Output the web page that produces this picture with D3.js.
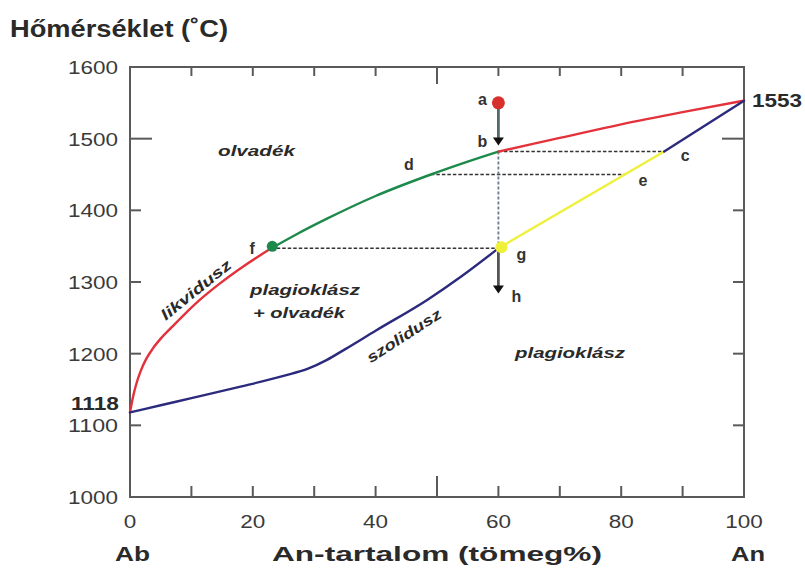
<!DOCTYPE html>
<html>
<head>
<meta charset="utf-8">
<script src="https://cdn.jsdelivr.net/npm/d3@7"></script>
<style>
  html, body { margin: 0; padding: 0; background: #fff; }
  svg { display: block; font-family: "Liberation Sans", Arial, sans-serif; }
</style>
</head>
<body>
<svg id="chart" width="805" height="568"></svg>
<script>
// Liquidus curve of the albite–anorthite system: [An wt%, °C]
const liquidusLow  = [[0,1118],[0.5,1140],[1,1157],[1.7,1175],[2.6,1192],[3.7,1207],[5,1221],[6.8,1237],[9,1256],[11.5,1276],[14.5,1297],[18.5,1322],[23,1347]];
const liquidusMid  = [[23,1347],[27,1366],[32,1388],[40,1420],[49,1450],[55,1468],[60,1482]];
const liquidusHigh = [[60,1482],[70,1501],[80,1520],[90,1537],[100,1553]];
// Solidus curve
const solidusLow  = [[0,1118],[5,1128],[10,1138],[18,1154],[25,1169],[29,1179],[32,1191],[35,1206],[40,1232],[48.4,1275],[54,1308],[60,1347]];
const solidusMid  = [[60,1347],[87,1482]];
const solidusHigh = [[87,1482],[100,1553]];

// Crystallisation path points
const pathPoints = [
  { id: "a", x: 60, t: 1550 },
  { id: "b", x: 60, t: 1482 },
  { id: "c", x: 87, t: 1482 },
  { id: "d", x: 49, t: 1450 },
  { id: "e", x: 80.6, t: 1450 },
  { id: "f", x: 23, t: 1347 },
  { id: "g", x: 60, t: 1347 },
  { id: "h", x: 60, t: 1284 }
];
// Tie lines (isotherms) between liquid and solid compositions
const tieLines = [["b","c"],["d","e"],["f","g"]];

const xTicks = [0, 20, 40, 60, 80, 100];
const xMinorTicks = [10, 20, 30, 40, 50, 60, 70, 80, 90];
const yTicks = [1000, 1100, 1200, 1300, 1400, 1500, 1600];
const yMinorTicks = [1100, 1200, 1300, 1400, 1500];

const svg = d3.select("#chart");
const x = d3.scaleLinear().domain([0, 100]).range([130, 744]);
const y = d3.scaleLinear().domain([1000, 1600]).range([497, 67]);
const P = Object.fromEntries(pathPoints.map(p => [p.id, p]));

const axisColor = "#5a5a5a";
const textColor = "#2a2a2a";

// Text helper: the type is set wide, so every label gets an explicit run length
function label(g, opts) {
  const t = g.append("text")
    .attr("x", opts.x).attr("y", opts.y)
    .attr("font-size", opts.size + "px")
    .attr("fill", opts.fill || textColor)
    .attr("textLength", opts.len)
    .attr("lengthAdjust", "spacingAndGlyphs")
    .text(opts.text);
  if (opts.bold) t.attr("font-weight", "bold");
  if (opts.italic) t.attr("font-style", "italic");
  if (opts.transform) t.attr("transform", opts.transform);
  return t;
}

// Plot frame
svg.append("rect")
  .attr("x", x(0)).attr("y", y(1600))
  .attr("width", x(100) - x(0)).attr("height", y(1000) - y(1600))
  .attr("fill", "none").attr("stroke", axisColor).attr("stroke-width", 2);

// Inward ticks on all four sides
const tickG = svg.append("g").attr("stroke", axisColor).attr("stroke-width", 2);
xMinorTicks.forEach(v => {
  const len = v === 50 ? 21 : 11;
  tickG.append("line").attr("x1", x(v)).attr("x2", x(v)).attr("y1", y(1000)).attr("y2", y(1000) - len);
  tickG.append("line").attr("x1", x(v)).attr("x2", x(v)).attr("y1", y(1600)).attr("y2", y(1600) + (v === 50 ? 17 : 9));
});
yMinorTicks.forEach(v => {
  const len = v === 1500 ? 22 : 11;
  tickG.append("line").attr("x1", x(0)).attr("x2", x(0) + len).attr("y1", y(v)).attr("y2", y(v));
  tickG.append("line").attr("x1", x(100)).attr("x2", x(100) - len).attr("y1", y(v)).attr("y2", y(v));
});

// Tick labels
const labelG = svg.append("g");
yTicks.forEach(v => {
  label(labelG, { x: 68, y: y(v) + 7, size: 19, len: 50, text: String(v), fill: "#3a3a3a" });
});
xTicks.forEach(v => {
  const w = String(v).length * 12.5;
  label(labelG, { x: x(v) - w / 2, y: 528, size: 19, len: w, text: String(v), fill: "#3a3a3a" });
});

// Axis titles
label(labelG, { x: 10, y: 37, size: 23, len: 218, bold: true, text: "Hőmérséklet (˚C)" });
label(labelG, { x: 272, y: 561, size: 21, len: 330, bold: true, text: "An-tartalom (tömeg%)" });
label(labelG, { x: 115, y: 561, size: 21, len: 35, bold: true, text: "Ab" });
label(labelG, { x: 731, y: 561, size: 21, len: 34, bold: true, text: "An" });

// Melting points of the end members
label(labelG, { x: 752, y: y(1553) + 6, size: 18, len: 50, bold: true, text: "1553" });
label(labelG, { x: 71, y: y(1118) - 2, size: 18, len: 48, bold: true, text: "1118" });

// Tie lines
const dashG = svg.append("g").attr("stroke", "#333").attr("stroke-width", 1.6).attr("stroke-dasharray", "3.5,2");
tieLines.forEach(([p, q]) => {
  dashG.append("line")
    .attr("x1", x(P[p].x)).attr("y1", y(P[p].t))
    .attr("x2", x(P[q].x)).attr("y2", y(P[q].t));
});
// Vertical isopleth from b to g
svg.append("line")
  .attr("x1", x(60)).attr("x2", x(60))
  .attr("y1", y(P.b.t)).attr("y2", y(P.g.t))
  .attr("stroke", "#6a7a90").attr("stroke-width", 1.8).attr("stroke-dasharray", "3,2");

// Curves
const line = d3.line().x(d => x(d[0])).y(d => y(d[1])).curve(d3.curveMonotoneX);
const curves = [
  [liquidusLow, "#e3323b"],
  [liquidusMid, "#1d8a4b"],
  [liquidusHigh, "#e3323b"],
  [solidusLow, "#2c2a7c"],
  [solidusMid, "#eef03a"],
  [solidusHigh, "#2c2a7c"]
];
curves.forEach(([data, color]) => {
  svg.append("path").datum(data)
    .attr("d", line)
    .attr("fill", "none").attr("stroke", color)
    .attr("stroke-width", 2.4).attr("stroke-linecap", "round");
});

// Cooling arrows a→b and g→h
const arrowHead = (tipX, tipY) => {
  svg.append("path")
    .attr("d", `M${tipX - 5.5},${tipY - 8} L${tipX + 5.5},${tipY - 8} L${tipX},${tipY} Z`)
    .attr("fill", "#111");
};
svg.append("line")
  .attr("x1", x(P.a.x)).attr("y1", y(P.a.t))
  .attr("x2", x(P.b.x)).attr("y2", y(P.b.t) - 12)
  .attr("stroke", "#4f6b6b").attr("stroke-width", 2.8);
arrowHead(x(P.b.x), y(P.b.t) - 6);
svg.append("line")
  .attr("x1", x(P.g.x)).attr("y1", y(P.g.t))
  .attr("x2", x(P.h.x)).attr("y2", y(P.h.t) - 6)
  .attr("stroke", "#555").attr("stroke-width", 2.8);
arrowHead(x(P.h.x), y(P.h.t));

// Path markers
svg.append("circle").attr("cx", x(P.a.x)).attr("cy", y(P.a.t)).attr("r", 6.5).attr("fill", "#d8302c");
svg.append("circle").attr("cx", x(P.f.x) + 1).attr("cy", y(P.f.t) - 2).attr("r", 5.5).attr("fill", "#1d8a4b");
svg.append("circle").attr("cx", x(P.g.x) + 3).attr("cy", y(P.g.t) - 1).attr("r", 6).attr("fill", "#eef03a");

// Point letters
const letterPos = {
  a: [-16, 2], b: [-16, -5], c: [21, 9], d: [-22, -5],
  e: [18, 11], f: [-19, 6], g: [23, 12], h: [18, 9]
};
svg.append("g").selectAll("text").data(pathPoints).join("text")
  .attr("x", d => x(d.x) + letterPos[d.id][0])
  .attr("y", d => y(d.t) + letterPos[d.id][1])
  .attr("text-anchor", "middle")
  .attr("font-size", "16px").attr("font-weight", "bold").attr("fill", "#333")
  .text(d => d.id);

// Field labels
const fieldG = svg.append("g");
label(fieldG, { x: 218, y: 156, size: 15, len: 77, bold: true, italic: true, text: "olvadék" });
label(fieldG, { x: 250, y: 295, size: 15, len: 110, bold: true, italic: true, text: "plagioklász" });
label(fieldG, { x: 253, y: 318, size: 15, len: 92, bold: true, italic: true, text: "+ olvadék" });
label(fieldG, { x: 515, y: 358, size: 15, len: 110, bold: true, italic: true, text: "plagioklász" });
label(fieldG, { x: -43, y: 5, size: 15, len: 86, bold: true, italic: true, text: "likvidusz",
  transform: "translate(196,290) rotate(-39)" });
label(fieldG, { x: -43, y: 5, size: 15, len: 86, bold: true, italic: true, text: "szolidusz",
  transform: "translate(404,336) rotate(-33)" });
</script>
</body>
</html>
